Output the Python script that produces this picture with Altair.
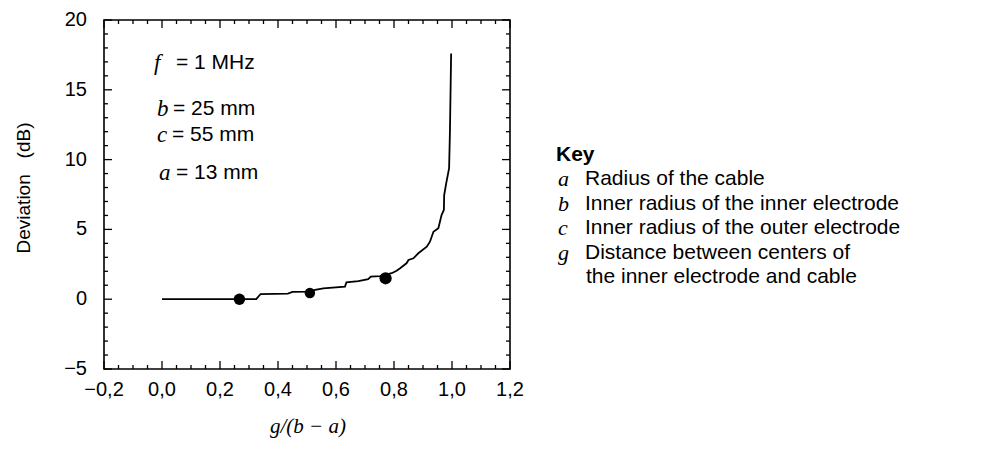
import altair as alt
import pandas as pd

# ---- data ----
curve_x = [0.0, 0.267, 0.325, 0.34, 0.434, 0.45, 0.51, 0.528, 0.556, 0.631,
           0.636, 0.677, 0.711, 0.72, 0.752, 0.792, 0.809, 0.82, 0.843, 0.85,
           0.867, 0.884, 0.913, 0.924, 0.936, 0.953, 0.964, 0.972, 0.973, 0.98,
           0.99, 0.993, 0.997]
curve_y = [0.0, 0.0, 0.0, 0.37, 0.40, 0.52, 0.54, 0.66, 0.78, 0.90,
           1.21, 1.30, 1.43, 1.61, 1.66, 1.86, 2.04, 2.2, 2.57, 2.81,
           2.93, 3.29, 3.76, 4.12, 4.83, 5.08, 6.03, 6.39, 7.46, 8.30,
           9.38, 12.1, 17.6]

dot_x = [0.267, 0.51, 0.771]
dot_y = [0.0, 0.44, 1.50]
dot_size = [130, 110, 150]

x_major = [-0.2, 0.0, 0.2, 0.4, 0.6, 0.8, 1.0, 1.2]
x_minor = [-0.15, -0.1, -0.05, 0.05, 0.1, 0.15, 0.25, 0.3, 0.35, 0.45, 0.5, 0.55,
           0.65, 0.7, 0.75, 0.85, 0.9, 0.95, 1.05, 1.1, 1.15]
y_major = [-5, 0, 5, 10, 15, 20]
y_minor = [-4, -3, -2, -1, 1, 2, 3, 4, 6, 7, 8, 9, 11, 12, 13, 14, 16, 17, 18, 19]

x_title = "g/(b \u2212 a)"
y_title = "Deviation\u00a0\u00a0\u00a0(dB)"
params = [("f", "= 1 MHz"), ("b", "= 25 mm"), ("c", "= 55 mm"), ("a", "= 13 mm")]
key_title = "Key"
key_symbols = ["a", "b", "c", "g", ""]
key_texts = ["Radius of the cable", "Inner radius of the inner electrode",
             "Inner radius of the outer electrode", "Distance between centers of",
             "the inner electrode and cable"]

# ---- layout constants ----
W, H = 406, 349
SANS = "Liberation Sans"
SERIF = "Liberation Serif"

xs = alt.Scale(domain=[-0.2, 1.2], nice=False, zero=False)
ys = alt.Scale(domain=[-5, 20], nice=False, zero=False)

curve_df = pd.DataFrame({"x": curve_x, "y": curve_y})
dots_df = pd.DataFrame({"x": dot_x, "y": dot_y, "s": dot_size})

line = alt.Chart(curve_df).mark_line(color="black", strokeWidth=1.8).encode(
    x=alt.X("x:Q", scale=xs, axis=None),
    y=alt.Y("y:Q", scale=ys, axis=None),
)

dots = alt.Chart(dots_df).mark_circle(color="black", opacity=1).encode(
    x=alt.X("x:Q", scale=xs, axis=None),
    y=alt.Y("y:Q", scale=ys, axis=None),
    size=alt.Size("s:Q", scale=None, legend=None),
)


def xticks(vals, length):
    df = pd.DataFrame({"v": vals})
    bottom = alt.Chart(df).mark_rule(color="black", strokeWidth=1.3).encode(
        x=alt.X("v:Q", scale=xs, axis=None), y=alt.value(H), y2=alt.value(H - length))
    top = alt.Chart(df).mark_rule(color="black", strokeWidth=1.3).encode(
        x=alt.X("v:Q", scale=xs, axis=None), y=alt.value(0), y2=alt.value(length))
    return [bottom, top]


def yticks(vals, length):
    df = pd.DataFrame({"v": vals})
    left = alt.Chart(df).mark_rule(color="black", strokeWidth=1.3).encode(
        y=alt.Y("v:Q", scale=ys, axis=None), x=alt.value(0), x2=alt.value(length))
    right = alt.Chart(df).mark_rule(color="black", strokeWidth=1.3).encode(
        y=alt.Y("v:Q", scale=ys, axis=None), x=alt.value(W), x2=alt.value(W - length))
    return [left, right]


def label(txt, px, py, font=SANS, size=21, style="normal", weight="normal",
          align="left", angle=0):
    return alt.Chart(pd.DataFrame({"t": [txt]})).mark_text(
        font=font, fontSize=size, fontStyle=style, fontWeight=weight,
        align=align, baseline="middle", color="black", angle=angle).encode(
        text="t:N", x=alt.value(px), y=alt.value(py))


# tick labels (positioned through the scales)
xlab = alt.Chart(pd.DataFrame({"v": x_major})).transform_calculate(
    t="replace(format(datum.v, '.1f'), '.', ',')"
).mark_text(font=SANS, fontSize=20, align="center", baseline="middle",
            color="black").encode(
    x=alt.X("v:Q", scale=xs, axis=None), y=alt.value(H + 21), text="t:N")

ylab = alt.Chart(pd.DataFrame({"v": y_major})).transform_calculate(
    t="format(datum.v, 'd')"
).mark_text(font=SANS, fontSize=20, align="right", baseline="middle",
            color="black").encode(
    y=alt.Y("v:Q", scale=ys, axis=None), x=alt.value(-17), text="t:N")

layers = [line, dots, xlab, ylab]
layers += xticks(x_major, 8) + xticks(x_minor, 4)
layers += yticks(y_major, 8) + yticks(y_minor, 4)

# axis titles
layers.append(label(x_title, 204, H + 58, font=SERIF, size=21, style="italic",
                    align="center"))
layers.append(label(y_title, -80, 168, size=19, align="center", angle=270))

# in-plot parameter annotations (pixel offsets from plot origin)
param_pos = [(50, 72, 43), (53, 69, 89), (53, 68, 115), (55, 72, 153)]
for (sym, rest), (sx, rx, py) in zip(params, param_pos):
    layers.append(label(sym, sx, py, font=SERIF, size=23, style="italic"))
    layers.append(label(rest, rx, py))

# key
layers.append(label(key_title, 452, 135, weight="bold"))
for i, (sym, txt) in enumerate(zip(key_symbols, key_texts)):
    py = 159 + i * 24.5
    if sym:
        layers.append(label(sym, 454, py, font=SERIF, size=22, style="italic"))
    layers.append(label(txt, 481 if sym else 482, py))

chart = alt.layer(*layers).properties(
    width=W, height=H,
    autosize=alt.AutoSizeParams(type="none"),
    padding={"left": 96, "top": 12, "right": 470, "bottom": 78},
    background="white",
).configure_view(stroke="black", strokeWidth=1.6)

chart.save("out.html", embed_options={"renderer": "svg", "actions": False})
